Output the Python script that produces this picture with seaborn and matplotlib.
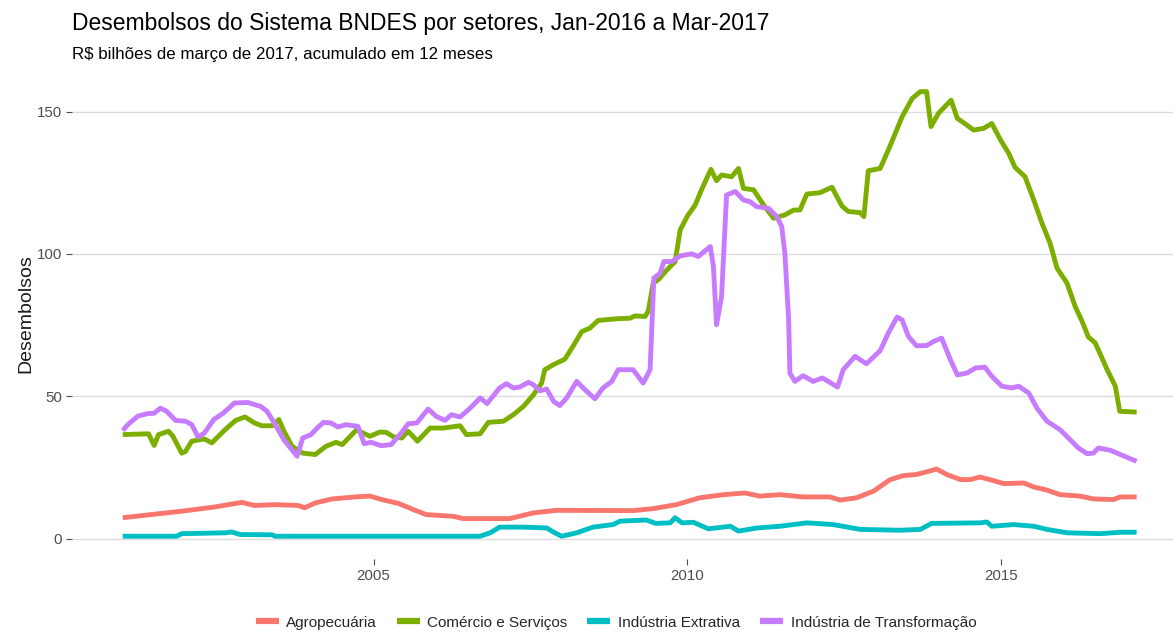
import pandas as pd
import numpy as np
import matplotlib
matplotlib.use("Agg")
import matplotlib.pyplot as plt
import seaborn as sns

# valores (R$ bilhoes, acumulado 12 meses), datas em anos decimais
agro_datas = [2001.00, 2001.94, 2002.47, 2002.90, 2003.10, 2003.43, 2003.80, 2003.90,
              2004.07, 2004.34, 2004.70, 2004.94, 2005.13, 2005.40, 2005.63, 2005.84,
              2006.27, 2006.43, 2007.17, 2007.55, 2007.92, 2009.14, 2009.46, 2009.83,
              2010.20, 2010.58, 2010.92, 2011.16, 2011.48, 2011.85, 2012.28, 2012.44,
              2012.70, 2012.97, 2013.24, 2013.45, 2013.66, 2013.85, 2013.98, 2014.14,
              2014.36, 2014.52, 2014.67, 2014.83, 2015.05, 2015.37, 2015.53, 2015.74,
              2015.95, 2016.27, 2016.48, 2016.80, 2016.91, 2017.17]
agro_vals = [7.3, 9.6, 11.1, 12.7, 11.6, 11.9, 11.6, 10.8,
             12.5, 13.9, 14.6, 14.9, 13.7, 12.3, 10.2, 8.4,
             7.8, 7.0, 7.0, 9.0, 9.9, 9.8, 10.5, 11.9,
             14.3, 15.4, 16.0, 14.9, 15.4, 14.6, 14.6, 13.5,
             14.3, 16.6, 20.7, 22.1, 22.5, 23.6, 24.4, 22.5,
             20.7, 20.7, 21.6, 20.7, 19.3, 19.5, 18.1, 17.0,
             15.4, 14.9, 13.9, 13.7, 14.6, 14.6]

com_datas = [2001.00, 2001.41, 2001.50, 2001.57, 2001.73, 2001.80, 2001.94, 2002.00,
             2002.10, 2002.30, 2002.42, 2002.63, 2002.80, 2002.95, 2003.10, 2003.22,
             2003.38, 2003.49, 2003.57, 2003.70, 2003.87, 2004.07, 2004.24, 2004.40,
             2004.50, 2004.73, 2004.94, 2005.10, 2005.20, 2005.32, 2005.45, 2005.55,
             2005.70, 2005.90, 2006.11, 2006.38, 2006.48, 2006.70, 2006.83, 2007.07,
             2007.23, 2007.39, 2007.55, 2007.68, 2007.73, 2007.87, 2008.05, 2008.18,
             2008.32, 2008.45, 2008.58, 2008.88, 2009.09, 2009.17, 2009.33, 2009.38,
             2009.46, 2009.54, 2009.68, 2009.81, 2009.89, 2010.00, 2010.13, 2010.23,
             2010.38, 2010.47, 2010.55, 2010.71, 2010.82, 2010.90, 2011.06, 2011.22,
             2011.38, 2011.56, 2011.70, 2011.80, 2011.91, 2012.12, 2012.31, 2012.47,
             2012.57, 2012.76, 2012.82, 2012.89, 2013.08, 2013.21, 2013.32, 2013.43,
             2013.59, 2013.72, 2013.82, 2013.89, 2014.01, 2014.21, 2014.31, 2014.44,
             2014.57, 2014.73, 2014.86, 2015.00, 2015.13, 2015.23, 2015.39, 2015.53,
             2015.66, 2015.79, 2015.90, 2016.06, 2016.19, 2016.30, 2016.40, 2016.51,
             2016.70, 2016.83, 2016.90, 2017.17]
com_vals = [36.5, 36.8, 32.7, 36.5, 37.7, 35.9, 30.0, 30.6,
            34.2, 35.0, 33.6, 38.2, 41.5, 42.7, 40.6, 39.6,
            39.6, 41.8, 37.7, 32.4, 30.0, 29.5, 32.4, 33.8,
            33.0, 38.2, 35.9, 37.4, 37.3, 35.7, 35.3, 37.7,
            34.2, 38.8, 38.8, 39.6, 36.5, 36.8, 40.8, 41.2,
            43.5, 46.4, 50.5, 54.6, 59.3, 61.1, 63.0, 67.5,
            72.7, 73.9, 76.6, 77.2, 77.4, 78.2, 78.0, 79.8,
            89.7, 90.9, 94.4, 97.3, 108.4, 113.1, 117.2, 122.5,
            129.7, 125.7, 127.7, 127.1, 130.0, 123.0, 122.5, 117.2,
            112.5, 113.7, 115.4, 115.4, 121.0, 121.5, 123.4, 116.8,
            114.9, 114.5, 113.1, 129.2, 130.0, 136.5, 142.3, 148.2,
            154.6, 157.0, 157.0, 144.7, 149.4, 154.0, 147.6, 145.6,
            143.5, 144.1, 145.8, 140.0, 135.3, 130.4, 127.1, 118.9,
            110.8, 103.7, 95.0, 89.7, 81.5, 76.3, 70.8, 68.7,
            59.3, 53.5, 44.7, 44.4]

ext_datas = [2001.00, 2001.86, 2001.94, 2002.63, 2002.74, 2002.87, 2003.38, 2003.43,
             2006.70, 2006.86, 2007.01, 2007.39, 2007.76, 2007.89, 2008.00, 2008.24,
             2008.50, 2008.82, 2008.93, 2009.35, 2009.50, 2009.73, 2009.81, 2009.92,
             2010.10, 2010.34, 2010.69, 2010.82, 2011.11, 2011.48, 2011.91, 2012.33,
             2012.76, 2013.40, 2013.72, 2013.90, 2014.67, 2014.78, 2014.86, 2015.21,
             2015.53, 2015.74, 2016.06, 2016.59, 2016.91, 2017.17]
ext_vals = [0.8, 0.8, 1.7, 2.0, 2.3, 1.4, 1.3, 0.8,
            0.8, 2.0, 4.0, 4.0, 3.7, 2.0, 0.8, 2.0,
            4.0, 4.9, 6.1, 6.5, 5.3, 5.5, 7.3, 5.5,
            5.7, 3.4, 4.3, 2.6, 3.7, 4.3, 5.5, 4.9,
            3.2, 2.9, 3.2, 5.3, 5.5, 5.8, 4.3, 4.9,
            4.3, 3.2, 2.0, 1.7, 2.2, 2.2]

transf_datas = [2001.00, 2001.08, 2001.24, 2001.40, 2001.50, 2001.60, 2001.70, 2001.84,
                2002.00, 2002.10, 2002.20, 2002.30, 2002.45, 2002.60, 2002.78, 2002.99,
                2003.20, 2003.30, 2003.40, 2003.57, 2003.78, 2003.87, 2004.00, 2004.10,
                2004.20, 2004.32, 2004.43, 2004.56, 2004.75, 2004.85, 2004.96, 2005.12,
                2005.28, 2005.44, 2005.55, 2005.69, 2005.87, 2006.00, 2006.14, 2006.24,
                2006.38, 2006.54, 2006.70, 2006.81, 2007.01, 2007.12, 2007.23, 2007.33,
                2007.47, 2007.55, 2007.65, 2007.76, 2007.87, 2007.97, 2008.08, 2008.24,
                2008.37, 2008.53, 2008.66, 2008.80, 2008.90, 2009.14, 2009.30, 2009.41,
                2009.47, 2009.57, 2009.63, 2009.76, 2009.89, 2010.07, 2010.18, 2010.37,
                2010.42, 2010.47, 2010.55, 2010.63, 2010.77, 2010.90, 2011.00, 2011.11,
                2011.30, 2011.43, 2011.51, 2011.56, 2011.62, 2011.64, 2011.72, 2011.85,
                2012.01, 2012.16, 2012.40, 2012.49, 2012.68, 2012.86, 2013.08, 2013.21,
                2013.35, 2013.43, 2013.53, 2013.66, 2013.82, 2013.93, 2014.06, 2014.20,
                2014.31, 2014.46, 2014.60, 2014.75, 2014.86, 2015.02, 2015.18, 2015.29,
                2015.45, 2015.58, 2015.74, 2015.95, 2016.11, 2016.24, 2016.38, 2016.48,
                2016.56, 2016.75, 2016.91, 2017.17]
transf_vals = [37.9, 40.0, 43.0, 43.9, 44.0, 45.8, 44.7, 41.5,
               41.2, 40.0, 35.7, 37.0, 41.8, 44.0, 47.6, 47.8,
               46.4, 44.7, 41.2, 34.7, 28.9, 35.3, 36.5, 38.8,
               40.8, 40.6, 39.2, 40.0, 39.4, 33.3, 33.8, 32.6,
               33.0, 37.0, 40.3, 40.6, 45.5, 42.9, 41.5, 43.5,
               42.7, 45.8, 49.4, 47.4, 52.9, 54.4, 52.9, 53.2,
               54.9, 54.0, 51.9, 52.5, 48.2, 46.7, 49.4, 55.2,
               52.3, 49.1, 52.9, 55.2, 59.3, 59.3, 54.6, 59.3,
               91.5, 93.2, 97.3, 97.3, 99.3, 100.0, 99.1, 102.6,
               95.6, 75.1, 85.0, 120.7, 121.9, 118.9, 118.4, 116.6,
               116.0, 113.1, 109.6, 100.2, 76.8, 58.1, 55.2, 57.2,
               55.2, 56.4, 53.2, 59.3, 64.0, 61.4, 66.0, 72.2,
               77.8, 76.8, 71.0, 67.7, 67.8, 69.2, 70.4, 62.8,
               57.5, 58.1, 59.9, 60.2, 57.0, 53.5, 52.9, 53.5,
               51.1, 45.8, 41.2, 38.2, 34.7, 31.8, 29.8, 30.0,
               31.8, 31.0, 29.5, 27.1]

setores = ["Agropecuária", "Comércio e Serviços", "Indústria Extrativa",
           "Indústria de Transformação"]
cores = ["#F8766D", "#7CAE00", "#00BFC4", "#C77CFF"]
anos_ticks = [2005, 2010, 2015]
y_ticks = [0, 50, 100, 150]

series = [(agro_datas, agro_vals), (com_datas, com_vals),
          (ext_datas, ext_vals), (transf_datas, transf_vals)]
frames = []
for nome, (d, v) in zip(setores, series):
    frames.append(pd.DataFrame({"data": d, "Desembolsos": v, "setor": nome}))
df = pd.concat(frames, ignore_index=True)

sns.set_theme(style="white")
plt.rcParams["font.family"] = ["Liberation Sans", "DejaVu Sans"]

fig = plt.figure(figsize=(11.73, 6.33), dpi=100)
W, H = 1173, 633
ax = fig.add_axes([72 / W, 1 - 559 / H, (W - 72) / W, (559 - 68) / H])

sns.lineplot(data=df, x="data", y="Desembolsos", hue="setor", hue_order=setores,
             palette=cores, linewidth=3.5, estimator=None, ax=ax,
             solid_joinstyle="round", solid_capstyle="butt")

ax.set_xlim(2000.19, 2017.75)
ax.set_ylim(-7.2, 165.3)
ax.set_xticks(anos_ticks)
ax.set_xticklabels([str(a) for a in anos_ticks])
ax.set_yticks(y_ticks)
ax.yaxis.grid(True, color="#dcdcdc", linewidth=1.0)
ax.xaxis.grid(False)
for s in ax.spines.values():
    s.set_visible(False)
ax.tick_params(axis="both", which="major", length=4, width=0.8, color="#4d4d4d",
               labelsize=10.8, labelcolor="#4d4d4d", pad=3, bottom=True, left=True)
ax.set_xlabel("")
ax.set_ylabel("Desembolsos", fontsize=14, color="#1a1a1a")
ax.yaxis.set_label_coords(-0.034, 0.5)

fig.text(72 / W, 1 - 30 / H, "Desembolsos do Sistema BNDES por setores, Jan-2016 a Mar-2017",
         fontsize=16.5, color="#000000", ha="left", va="baseline")
fig.text(72 / W, 1 - 59 / H, "R$ bilhões de março de 2017, acumulado em 12 meses",
         fontsize=12.2, color="#000000", ha="left", va="baseline")

sns.move_legend(ax, "center", bbox_to_anchor=(0.494, -0.13), ncol=4, title=None,
                frameon=False, fontsize=11, handlelength=1.5, handletextpad=0.5,
                columnspacing=1.3)
for line in ax.get_legend().get_lines():
    line.set_linewidth(4.5)

plt.savefig("out.png", dpi=100)
plt.close()
